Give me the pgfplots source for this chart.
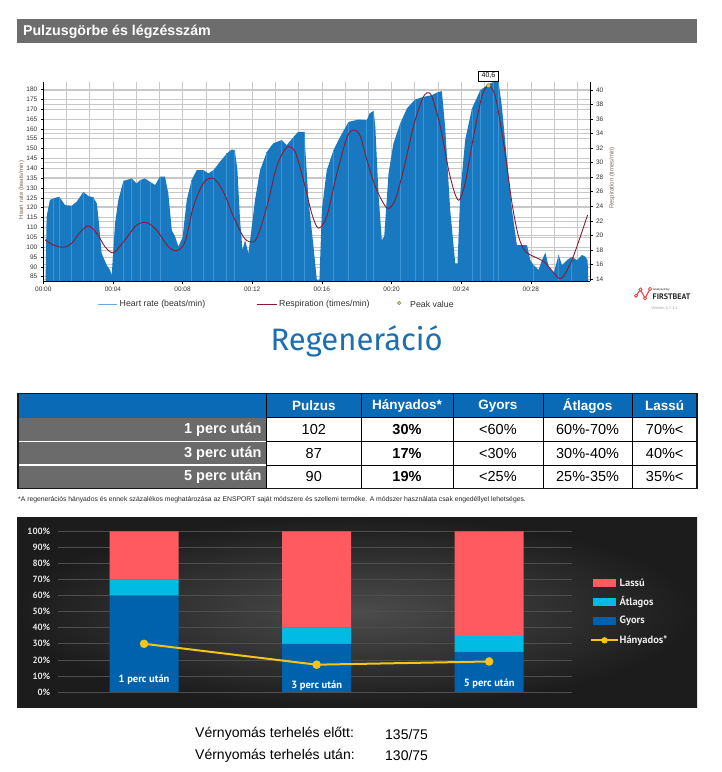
\documentclass[border=0pt]{standalone}
\usepackage{pgfplots}
\pgfplotsset{compat=1.18}
\usepackage{fontspec}
\setmainfont{Liberation Sans}
\newfontfamily\ptsans{PT Sans}
\newfontfamily\fira{Fira Sans}
\definecolor{hdrgray}{HTML}{6D6D6D}
\definecolor{hrblue}{HTML}{1878C0}
\definecolor{hrstripe}{HTML}{3C95D6}
\definecolor{gridgray}{HTML}{C8C8C8}
\definecolor{resp}{HTML}{8B1A2E}
\definecolor{peakyellow}{HTML}{E8D534}
\definecolor{tickgray}{HTML}{333333}
\definecolor{labelbrown}{HTML}{7F6A5C}
\definecolor{hrlegend}{HTML}{6FA8DC}
\definecolor{regblue}{HTML}{1E6FB0}
\definecolor{tblue}{HTML}{0B6AB6}
\definecolor{tgray}{HTML}{6B6B6B}
\definecolor{lassu}{HTML}{FF5A5F}
\definecolor{atlagos}{HTML}{00BCE4}
\definecolor{gyors}{HTML}{0062AC}
\definecolor{hany}{HTML}{F4C419}
\definecolor{panelin}{HTML}{4C4C4C}
\definecolor{panelout}{HTML}{1C1C1C}
\definecolor{gridbot}{HTML}{4E4E4E}
\definecolor{fbred}{HTML}{E8383D}
\pgfplotsset{
  topbase/.style={at={(43.3pt,-281pt)}, anchor=south west, scale only axis,
    width=546.7pt, height=199.3pt, xmin=0, xmax=31.4,
    tick label style={font=\fontsize{6.5}{7}\selectfont, text=tickgray},
    /pgf/number format/assume math mode=true},
  botbase/.style={at={(57.8pt,-692pt)}, anchor=south west, scale only axis,
    width=514.2pt, height=160.7pt, xmin=-0.5, xmax=2.48, ymin=0, ymax=100},
}
\begin{document}
\begin{tikzpicture}[x=1pt,y=-1pt]
\fill[white] (0,0) rectangle (722,772);
\useasboundingbox (0,0) rectangle (722,772);
% header bar
\fill[hdrgray] (16.7,19.3) rectangle (697,43.3);
\node[anchor=west, text=white, font=\bfseries\fontsize{14.2}{16}\selectfont] at (19.5,31.5) {Pulzusgörbe és légzésszám};

% ---------- top chart: respiration grid ----------
\begin{axis}[topbase, ymin=13.72, ymax=41.14, ytick={14,16,...,40}, yticklabels={},
  xtick=\empty, ymajorgrids, grid style={gridgray, line width=0.5pt},
  axis line style={draw=none}, major tick length=0pt]
\addplot[draw=none] coordinates {(1,20)};
\end{axis}
% ---------- heart rate ----------
\begin{axis}[topbase, ymin=82.8, ymax=183.9, ytick={85,90,...,180},
  xtick={0,4,...,28}, xticklabels={00:00,00:04,00:08,00:12,00:16,00:20,00:24,00:28},
  minor xtick={1.333,2.667,5.333,6.667,9.333,10.667,13.333,14.667,17.333,18.667,21.333,22.667,25.333,26.667,29.333,30.667},
  xmajorgrids, xminorgrids, ymajorgrids,
  grid style={gridgray, line width=0.5pt}, minor grid style={gridgray, line width=0.5pt},
  axis x line*=bottom, axis y line*=left, axis line style={-, black, line width=0.6pt},
  tick align=outside, major tick length=2.5pt, minor tick length=0pt,
  tick style={black, line width=0.5pt}]
\addplot[fill=hrblue, draw=none] coordinates {
(0.13,83)(0.19,115.4)(0.38,123.9)(0.57,124.7)(0.92,125.5)(1.25,121.3)(1.63,121.0)(1.92,123.0)
(2.30,128.0)(2.59,125.9)(2.87,125.2)(3.07,122.2)(3.16,115.4)(3.35,96.8)(3.64,90.9)(3.83,88.4)
(3.93,85.8)(4.12,112.0)(4.31,123.9)(4.60,133.6)(5.08,134.8)(5.36,132.3)(5.56,134.0)(5.84,134.8)
(6.13,133.1)(6.42,131.5)(6.70,135.7)(6.99,135.7)(7.18,127.2)(7.38,108.6)(7.57,105.3)(7.76,100.2)
(8.00,105.0)(8.24,123.9)(8.52,134.0)(8.81,139.0)(9.20,139.0)(9.48,137.4)(9.77,139.0)(10.15,143.3)
(10.54,147.5)(10.82,149.5)(11.00,149.2)(11.15,139.0)(11.30,113.7)(11.44,98.5)(11.59,103.6)(11.78,96.8)
(11.90,105.0)(12.16,123.9)(12.45,139.0)(12.84,148.3)(13.20,152.6)(13.70,154.3)(13.98,151.7)(14.37,155.9)
(14.65,158.5)(14.98,158.5)(15.04,150.9)(15.23,123.9)(15.52,100.2)(15.71,83.3)(15.86,83.3)(16.00,118.8)
(16.28,139.0)(16.67,149.2)(17.05,155.9)(17.53,163.5)(18.10,164.7)(18.58,164.4)(18.74,167.8)(18.97,169.1)
(19.07,161.0)(19.25,127.2)(19.44,103.6)(19.58,105.3)(19.83,137.4)(20.11,152.6)(20.50,162.7)(20.88,170.3)
(21.36,174.9)(21.84,176.2)(22.32,177.1)(22.61,178.4)(22.89,179.1)(23.08,161.0)(23.37,118.8)(23.66,91.8)
(23.79,91.8)(23.95,127.2)(24.23,154.3)(24.62,170.3)(25.10,179.6)(25.57,182.6)(25.86,183.8)(26.15,183.8)
(26.34,171.1)(26.63,144.1)(26.92,118.8)(27.20,101.0)(27.49,101.0)(27.78,101.0)(27.97,93.4)(28.16,90.9)
(28.45,88.4)(28.64,93.4)(28.84,97.2)(29.02,90.1)(29.31,86.7)(29.60,96.0)(29.79,90.9)(30.08,93.4)
(30.36,95.1)(30.65,93.4)(30.94,96.0)(31.13,95.1)(31.26,93.4)(31.30,83)
} \closedcycle;
\addplot[ycomb, draw=hrstripe, line width=0.8pt] coordinates {
(0.57,124.7)(0.92,125.5)(1.63,121.0)(2.30,128.0)(2.87,125.2)(4.60,133.6)(5.08,134.8)(5.56,134.0)
(6.13,133.1)(6.70,135.7)(8.52,134.0)(9.20,139.0)(9.77,139.0)(10.54,147.5)(11.00,149.2)(12.84,148.3)
(13.70,154.3)(14.37,155.9)(14.98,158.5)(16.67,149.2)(17.53,163.5)(18.58,164.4)(18.97,169.1)(20.50,162.7)
(21.36,174.9)(21.84,176.2)(22.61,178.4)(24.62,170.3)(25.10,179.6)(25.86,183.8)(26.15,183.8)(28.16,90.9)
(29.60,96.0)(30.36,95.1)
};
\end{axis}
% ---------- respiration ----------
\begin{axis}[topbase, ymin=13.72, ymax=41.14, ytick={14,16,...,40},
  axis y line*=right, axis x line*=bottom, xtick=\empty,
  axis line style={-, black, line width=0.6pt},
  tick align=outside, major tick length=2.5pt, tick style={black, line width=0.5pt}, clip=false]
\addplot[resp, line width=0.9pt, smooth] coordinates {
(0.10,19.37)(0.57,18.68)(1.15,18.36)(1.63,18.9)(2.10,20.4)(2.59,21.3)(3.07,20.3)(3.54,18.45)
(4.02,17.6)(4.60,19.1)(5.36,21.4)(5.94,21.75)(6.51,20.7)(7.18,18.45)(7.66,17.9)(8.14,19.1)
(8.62,23.95)(9.20,27.2)(9.77,27.85)(10.34,26.0)(10.92,22.6)(11.49,19.8)(11.88,19.1)(12.26,19.6)
(12.84,23.95)(13.41,29.5)(13.98,32.1)(14.46,31.5)(14.94,27.6)(15.42,23.0)(15.80,21.0)(16.28,22.6)
(16.86,28.5)(17.43,33.4)(17.82,34.5)(18.20,33.7)(18.58,30.4)(19.07,26.7)(19.54,24.4)(19.83,23.7)
(20.21,24.9)(20.69,29.0)(21.26,35.0)(21.74,38.6)(22.03,39.6)(22.32,39.1)(22.80,35.0)(23.28,29.0)
(23.66,25.6)(23.91,24.9)(24.23,27.2)(24.71,33.6)(25.19,39.1)(25.57,40.6)(25.96,39.1)(26.44,32.7)
(26.92,24.4)(27.30,19.8)(27.68,17.8)(28.16,17.1)(28.74,16.4)(29.20,15.2)(29.60,14.1)(29.89,14.4)
(30.36,16.6)(30.84,19.8)(31.26,22.8)
};
\addplot[only marks, mark=*, mark size=2pt, mark options={fill=peakyellow, draw=black!60, line width=0.4pt}] coordinates {(25.57,40.6)};
\node[draw=black, line width=0.7pt, fill=white, inner xsep=3pt, inner ysep=2pt, anchor=south, yshift=0.5pt,
  font=\fontsize{7}{8}\selectfont] at (axis cs:25.57,41.14) {40,6};
\end{axis}
\node[rotate=90, font=\fontsize{6}{7}\selectfont, text=labelbrown] at (21.5,190) {Heart rate (beats/min)};
\node[rotate=90, font=\fontsize{6}{7}\selectfont, text=labelbrown] at (612,178) {Respiration (times/min)};
% legend
\draw[hrlegend, line width=1pt] (98.3,304.3) -- (117,304.3);
\node[anchor=west, font=\fontsize{8.8}{10}\selectfont, text=tickgray, inner sep=1pt] at (118.5,304.3) {Heart rate (beats/min)};
\draw[resp, line width=1.2pt] (256.7,304.3) -- (276.7,304.3);
\node[anchor=west, font=\fontsize{8.8}{10}\selectfont, text=tickgray, inner sep=1pt] at (278,304.3) {Respiration (times/min)};
\draw[fill=peakyellow, draw=black!50, line width=0.4pt] (399.3,303) circle (1.8pt);
\node[anchor=west, font=\fontsize{8.8}{10}\selectfont, text=tickgray, inner sep=1pt] at (409,304.3) {Peak value};
% firstbeat logo
\draw[fbred, line width=1pt] (636,295.7) -- (640.5,289.5) -- (645,298.3) -- (650,289);
\foreach \p in {(636,295.7),(640.5,289.5),(645,298.3),(650,289)} \draw[fbred, fill=white, line width=0.8pt] \p circle (1.6pt);
\node[anchor=west, font=\bfseries\fontsize{2.8}{3}\selectfont, text=black!70, inner sep=0pt] at (653,290) {Analysed by};
\node[anchor=west, font=\ptsans\bfseries\fontsize{8}{9}\selectfont, text=black!85, inner sep=0pt] at (652.5,296.5) {FIRSTBEAT};
\node[anchor=west, font=\fontsize{4}{5}\selectfont, text=black!35, inner sep=0pt] at (651,308.5) {Version 4.7.3.1};

% Regeneracio
\node[anchor=base, font=\fira\fontsize{31}{36}\selectfont, text=regblue, inner sep=0pt] at (356.7,350) {Regeneráció};

% ---------- table ----------
\fill[tblue] (18,393.5) rectangle (697,417.5);
\fill[tgray] (18,417.5) rectangle (266.6,488.5);
\draw[white, line width=1.5pt] (18,441.5) -- (266.6,441.5) (18,465) -- (266.6,465);
\draw[black, line width=0.6pt] (266.6,417.5) -- (697,417.5) (266.6,441.5) -- (697,441.5) (266.6,465) -- (697,465);
\foreach \xx in {266.6,361,453,542.8,632.5} \draw[black, line width=0.6pt] (\xx,393.5) -- (\xx,488.5);
\draw[black!90, line width=1.6pt] (18,393.5) rectangle (697,488.5);
\begin{scope}[every node/.style={font=\bfseries\fontsize{13.5}{15}\selectfont, text=white}]
\node at (313.8,405.8) {Pulzus};
\node at (407,405.8) {Hányados*};
\node at (497.9,405.8) {Gyors};
\node at (587.6,405.8) {Átlagos};
\node at (664.7,405.8) {Lassú};
\end{scope}
\begin{scope}[every node/.style={font=\bfseries\fontsize{14.5}{16}\selectfont, text=white, anchor=east}]
\node at (265,429.8) {1 perc után};
\node at (265,453.4) {3 perc után};
\node at (265,476.9) {5 perc után};
\end{scope}
\begin{scope}[every node/.style={font=\fontsize{14.5}{16}\selectfont, text=black}]
\node at (313.8,429.8) {102};
\node at (313.8,453.4) {87};
\node at (313.8,476.9) {90};
\node[font=\bfseries\fontsize{14.5}{16}\selectfont] at (407,429.8) {30\%};
\node[font=\bfseries\fontsize{14.5}{16}\selectfont] at (407,453.4) {17\%};
\node[font=\bfseries\fontsize{14.5}{16}\selectfont] at (407,476.9) {19\%};
\node at (497.9,429.8) {<60\%};
\node at (497.9,453.4) {<30\%};
\node at (497.9,476.9) {<25\%};
\node at (587.6,429.8) {60\%-70\%};
\node at (587.6,453.4) {30\%-40\%};
\node at (587.6,476.9) {25\%-35\%};
\node at (664.7,429.8) {70\%<};
\node at (664.7,453.4) {40\%<};
\node at (664.7,476.9) {35\%<};
\end{scope}
\node[anchor=west, font=\fontsize{6.8}{8}\selectfont, text=black!85, inner sep=0pt] at (18,500) {*A regenerációs hányados és ennek százalékos meghatározása az ENSPORT saját módszere és szellemi terméke. A módszer használata csak engedéllyel lehetséges.};

% ---------- bottom panel ----------
\shade[inner color=panelin, outer color=panelout] (17,517) rectangle (697,707);
\begin{axis}[botbase, ybar stacked, bar width=0.4,
  ytick={0,10,...,100}, yticklabels={0\%,10\%,20\%,30\%,40\%,50\%,60\%,70\%,80\%,90\%,100\%},
  yticklabel style={text=black!12, font=\ptsans\bfseries\fontsize{9}{10}\selectfont, xshift=-4pt},
  xtick=\empty, ymajorgrids, grid style={gridbot, line width=0.7pt},
  axis line style={draw=none}, major tick length=0pt, clip=false]
\addplot[fill=gyors, draw=none] coordinates {(0,60)(1,30)(2,25)};
\addplot[fill=atlagos, draw=none] coordinates {(0,10)(1,10)(2,10)};
\addplot[fill=lassu, draw=none] coordinates {(0,30)(1,60)(2,65)};
\end{axis}
\begin{axis}[botbase, hide axis, clip=false]
\addplot[hany, line width=2pt, mark=*, mark size=3.2pt] coordinates {(0,30)(1,17)(2,19)};
\node[text=white, font=\ptsans\bfseries\fontsize{10.5}{12}\selectfont] at (axis cs:0,7.5) {1 perc után};
\node[text=white, font=\ptsans\bfseries\fontsize{10.5}{12}\selectfont] at (axis cs:1,3.7) {3 perc után};
\node[text=white, font=\ptsans\bfseries\fontsize{10.5}{12}\selectfont] at (axis cs:2,5.0) {5 perc után};
\end{axis}
% bottom legend
\fill[lassu] (592.7,579) rectangle (616.3,587);
\fill[atlagos] (592.7,598) rectangle (616.3,606);
\fill[gyors] (592.7,617.3) rectangle (616.3,625.3);
\draw[hany, line width=2pt] (591,640.3) -- (618,640.3);
\fill[hany] (604.5,640.3) circle (3.2pt);
\begin{scope}[every node/.style={anchor=west, text=black!8, font=\ptsans\bfseries\fontsize{10.5}{12}\selectfont, inner sep=1pt}]
\node at (618.5,583) {Lassú};
\node at (618.5,602) {Átlagos};
\node at (618.5,621.3) {Gyors};
\node at (618.5,640.3) {Hányados*};
\end{scope}

% blood pressure text
\node[anchor=west, font=\fontsize{14}{16}\selectfont, inner sep=0pt] at (195,734) {Vérnyomás terhelés előtt:};
\node[anchor=west, font=\fontsize{14}{16}\selectfont, inner sep=0pt] at (385,734) {135/75};
\node[anchor=west, font=\fontsize{14}{16}\selectfont, inner sep=0pt] at (195,755.5) {Vérnyomás terhelés után:};
\node[anchor=west, font=\fontsize{14}{16}\selectfont, inner sep=0pt] at (385,755.5) {130/75};
\end{tikzpicture}
\end{document}
